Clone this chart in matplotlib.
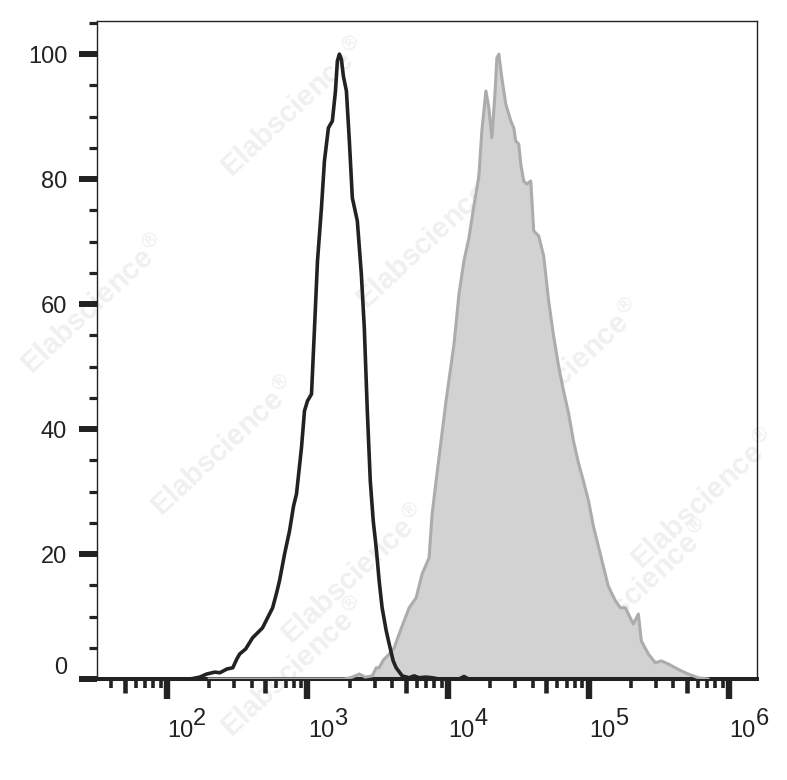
import matplotlib
matplotlib.use("Agg")
import matplotlib.pyplot as plt
from matplotlib.ticker import FixedLocator, NullLocator

plt.rcParams['font.family'] = ['Liberation Sans', 'DejaVu Sans']

# control (black outline) histogram: fluorescence intensity, % of max
ctrl_fl = [146, 171, 192, 219, 238, 267, 294, 314, 329, 363, 407, 442, 479, 520,
           565, 603, 632, 687, 745, 796, 835, 906, 952, 1000, 1068, 1122, 1178,
           1257, 1320, 1409, 1503, 1580, 1632, 1687, 1742, 1800, 1892, 1986, 2085,
           2263, 2417, 2537, 2665, 2798, 2937, 3083, 3236, 3397, 3634, 3815, 4072,
           4275, 4720, 5290, 5740, 6224, 6982, 7706, 8636, 12000, 12980, 14000]
ctrl_pct = [0.0, 0.3, 0.8, 1.1, 1.0, 1.6, 1.8, 3.2, 4.0, 4.8, 6.6, 7.4, 8.2, 9.8,
            11.4, 13.8, 15.7, 20.0, 23.7, 27.7, 29.6, 37.0, 42.9, 44.5, 45.6, 56.2,
            66.9, 75.4, 82.9, 88.2, 89.3, 94.0, 98.9, 100.0, 99.2, 96.5, 94.1, 86.1,
            77.0, 73.3, 64.8, 56.2, 42.9, 31.7, 25.3, 21.0, 15.7, 11.4, 7.7, 5.6,
            2.9, 1.8, 0.5, 0.2, 0.5, 0.2, 0.3, 0.2, 0.0, 0.0, 0.4, 0.0]

# stained sample (grey filled) histogram
stain_fl = [200, 1828, 2085, 2339, 2577, 2891, 3083, 3236, 3459, 3815, 4141, 4489,
            4870, 5290, 5929, 6541, 7334, 7706, 8227, 9683, 11034, 11970, 12980,
            14090, 15280, 16590, 17410, 18610, 19530, 20510, 21530, 22270, 23010,
            24160, 25780, 27990, 29380, 30350, 31890, 32950, 34590, 36310, 38810,
            40740, 44190, 47960, 52020, 56430, 61210, 66400, 72030, 78130, 84750,
            91940, 100000, 108200, 117400, 127300, 138100, 155400, 168500, 182800,
            208300, 226300, 237600, 266600, 298800, 329500, 369400, 414200, 456800,
            512100, 602600, 709100]
stain_pct = [0.0, 0.0, 0.3, 0.8, 0.3, 0.5, 1.8, 1.8, 3.0, 4.0, 5.0, 7.2, 9.3, 11.4,
             13.0, 16.8, 19.4, 26.4, 31.7, 44.5, 53.6, 61.6, 66.9, 70.6, 75.7, 80.5,
             87.7, 94.1, 91.4, 86.6, 93.3, 99.4, 100.0, 96.2, 92.0, 89.3, 88.2, 86.1,
             85.6, 82.4, 79.7, 79.2, 79.7, 71.7, 70.9, 67.7, 60.5, 54.9, 50.1, 46.1,
             42.6, 38.1, 34.6, 31.7, 28.5, 24.5, 21.3, 18.1, 14.9, 12.5, 11.4, 11.4,
             8.8, 10.4, 6.1, 4.0, 2.6, 2.9, 2.4, 1.8, 1.3, 0.8, 0.2, 0.0]

y_major = [0, 20, 40, 60, 80, 100]
y_minor = [5, 10, 15, 25, 30, 35, 45, 50, 55, 65, 70, 75, 85, 90, 95, 105]
decades = [2, 3, 4, 5, 6]

# watermark centres (figure pixels, from top-left)
marks = [(295, 108), (95, 305), (430, 240), (225, 447), (570, 370), (705, 500),
         (355, 575), (295, 668), (640, 590)]

W, H = 787, 780
fig = plt.figure(figsize=(W / 100, H / 100), dpi=100)
ax = fig.add_axes([97 / W, 1 - 679 / H, 660 / W, 658 / H])
ax.patch.set_alpha(0)

for (mx, my) in marks:
    fig.text(mx / W, 1 - my / H, "Elabscience$^{\u00ae}$", rotation=43,
             rotation_mode='anchor', ha='center', va='center', fontsize=21,
             fontweight='bold', color='#f0f0f0', zorder=-1)

ax.fill_between(stain_fl, stain_pct, 0, color='#d2d2d2', lw=0, zorder=2)
ax.plot(stain_fl, stain_pct, color='#acacac', lw=2.2, zorder=3)
ax.plot(ctrl_fl, ctrl_pct, color='#222222', lw=2.6, zorder=4)

ax.set_xscale('log')
ax.set_xlim(10 ** 1.502, 10 ** 6.199)
ax.set_ylim(0, 105.3)

for s in ['top', 'right', 'left']:
    ax.spines[s].set_linewidth(1.0)
    ax.spines[s].set_color('#222222')
ax.spines['bottom'].set_linewidth(2.9)
ax.spines['bottom'].set_color('#222222')

ax.yaxis.set_major_locator(FixedLocator(y_major))
ax.yaxis.set_minor_locator(FixedLocator(y_minor))
ax.set_yticklabels([str(v) for v in y_major])
ax.tick_params(axis='y', which='major', direction='out', length=13, width=4.3,
               color='#222222', pad=8.5, labelsize=17, labelcolor='#222222')
ax.tick_params(axis='y', which='minor', direction='out', length=6, width=2.3,
               color='#222222')
ax.get_yticklabels()[0].set_va('bottom')

x_minor = [m * 10 ** d for d in range(1, 7) for m in (2, 3, 4, 6, 7, 8, 9)]
ax.xaxis.set_major_locator(FixedLocator([10 ** d for d in decades]))
ax.xaxis.set_minor_locator(FixedLocator(x_minor))
ax.tick_params(axis='x', which='major', direction='out', length=14.5, width=4.6,
               color='#222222', labelbottom=False)
ax.tick_params(axis='x', which='minor', direction='out', length=6.3, width=2.6,
               color='#222222')

# medium ticks at 5 x 10^n
sec = ax.secondary_xaxis('bottom')
sec.set_xticks([5 * 10 ** d for d in range(1, 6)])
sec.xaxis.set_minor_locator(NullLocator())
sec.tick_params(axis='x', which='major', direction='out', length=10, width=3.3,
                color='#222222', labelbottom=False)
sec.spines['bottom'].set_visible(False)

for d in decades:
    ax.annotate("10", xy=(10 ** d, 0), xycoords=('data', 'axes fraction'),
                xytext=(0.5, -42), textcoords='offset points', ha='left',
                va='baseline', fontsize=17, color='#222222', annotation_clip=False)
    ax.annotate(str(d), xy=(10 ** d, 0), xycoords=('data', 'axes fraction'),
                xytext=(19, -33), textcoords='offset points', ha='left',
                va='baseline', fontsize=17, color='#222222', annotation_clip=False)

fig.savefig('out.png', dpi=100)
